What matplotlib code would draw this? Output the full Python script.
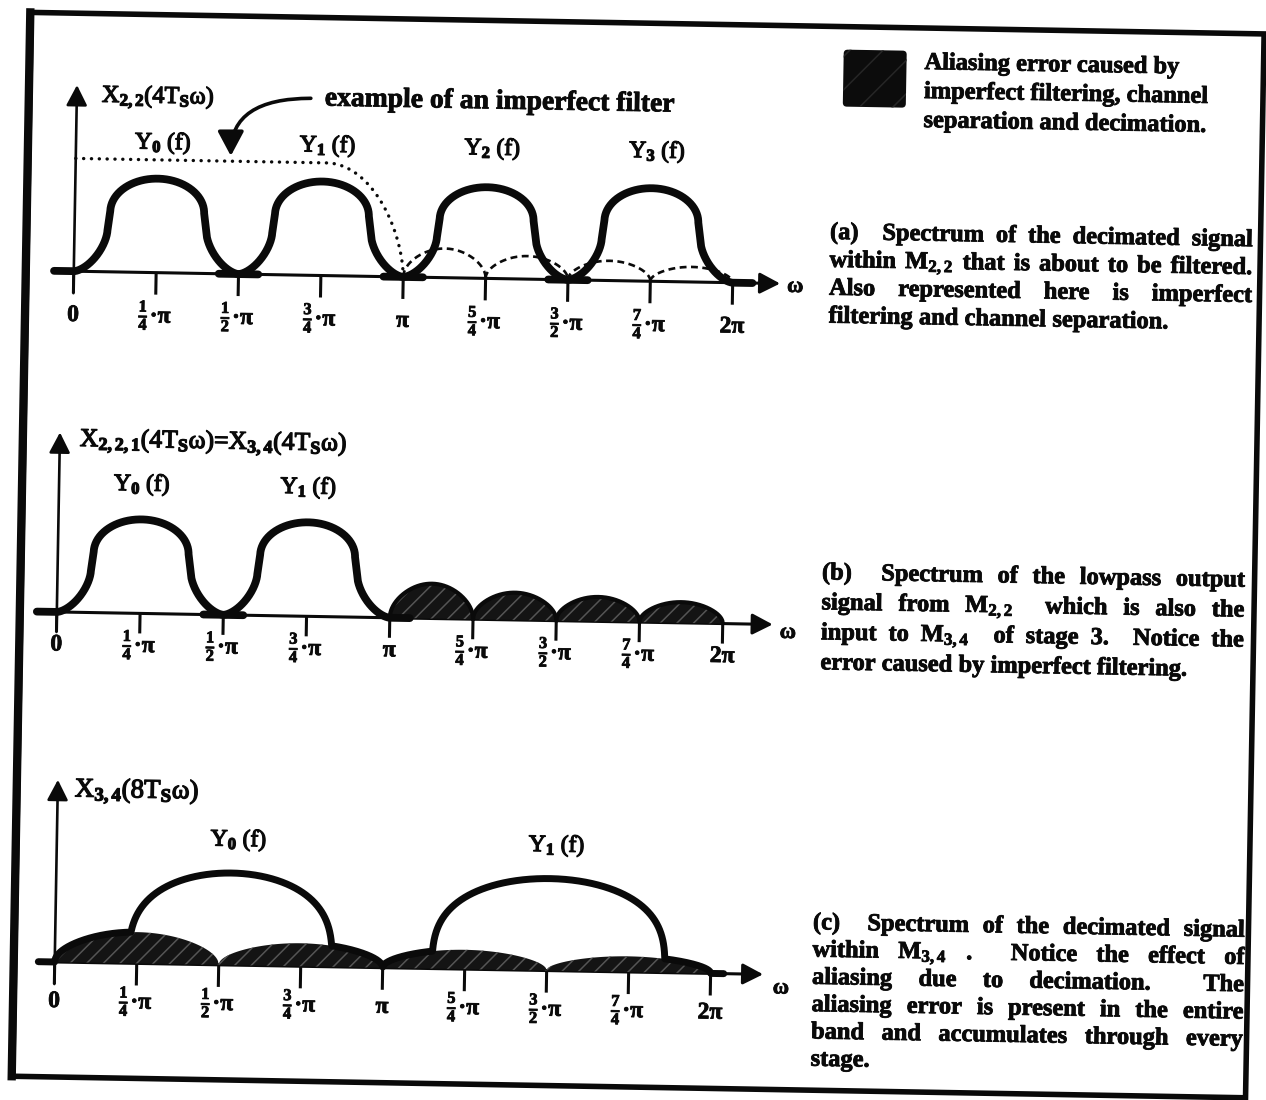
import numpy as np
import matplotlib
matplotlib.use("Agg")
import matplotlib.pyplot as plt
import matplotlib.patheffects as pe
from matplotlib.patches import Rectangle, FancyBboxPatch
from matplotlib.transforms import Affine2D

plt.rcParams.update({
    "font.family": ["Liberation Serif", "DejaVu Serif"],
    "mathtext.fontset": "custom",
    "mathtext.rm": "Liberation Serif:bold",
    "mathtext.it": "Liberation Serif:italic:bold",
    "mathtext.bf": "Liberation Serif:bold",
    "hatch.linewidth": 1.1,
})

# ---------------------------------------------------------------- data
TICK_POS = [0.0, 0.25, 0.5, 0.75, 1.0, 1.25, 1.5, 1.75, 2.0]          # multiples of pi
TICK_TEXT = ["0", r"$\frac{1}{4}$·π", r"$\frac{1}{2}$·π", r"$\frac{3}{4}$·π", "π",
             r"$\frac{5}{4}$·π", r"$\frac{3}{2}$·π", r"$\frac{7}{4}$·π", "2π"]

# (a) decimated spectrum inside M2,2 and an imperfect lowpass filter
A_BAND_NAMES = [r"Y$_0$ (f)", r"Y$_1$ (f)", r"Y$_2$ (f)", r"Y$_3$ (f)"]
A_BAND_CENTERS = [0.25, 0.75, 1.25, 1.75]
A_BAND_PEAKS = [1.0, 1.0, 0.97, 0.99]
A_FILTER_GAIN = 1.2
A_FILTER_ROLLOFF = [0.76, 1.0]
A_SIDELOBE_EDGES = [1.0, 1.25, 1.5, 1.75, 2.0]
A_SIDELOBE_PEAKS = [0.31, 0.245, 0.21, 0.16]

# (b) lowpass output of M2,2 = input of M3,4
B_BAND_NAMES = [r"Y$_0$ (f)", r"Y$_1$ (f)"]
B_BAND_CENTERS = [0.25, 0.75]
B_BAND_PEAKS = [1.0, 1.0]
B_ALIAS_EDGES = [1.0, 1.25, 1.5, 1.75, 2.0]
B_ALIAS_PEAKS = [0.37, 0.29, 0.26, 0.22]

# (c) decimated signal inside M3,4
C_BAND_NAMES = [r"Y$_0$ (f)", r"Y$_1$ (f)"]
C_BAND_CENTERS = [0.535, 1.505]
C_BAND_HALFWIDTHS = [0.31, 0.355]
C_BAND_PEAKS = [1.0, 1.0]
C_ALIAS_EDGES = [0.0, 0.5, 1.0, 1.5, 2.0]
C_ALIAS_PEAKS = [0.34, 0.25, 0.21, 0.17]

AXIS_LABELS = [r"X$_{2,2}$(4T$_{\mathrm{S}}$ω)",
               r"X$_{2,2,1}$(4T$_{\mathrm{S}}$ω)=X$_{3,4}$(4T$_{\mathrm{S}}$ω)",
               r"X$_{3,4}$(8T$_{\mathrm{S}}$ω)"]

LEGEND_TEXT = ["Aliasing error caused by",
               "imperfect filtering, channel",
               "separation and decimation."]
FILTER_NOTE = "example of an imperfect filter"
CAPTION_A = ["(a)  Spectrum of the decimated signal",
             "within M$_{2,2}$ that is about to be filtered.",
             "Also represented here is imperfect",
             "filtering and channel separation."]
CAPTION_B = ["(b)  Spectrum of the lowpass output",
             "signal from M$_{2,2}$  which is also the",
             "input to M$_{3,4}$  of stage 3.  Notice the",
             "error caused by imperfect filtering."]
CAPTION_C = ["(c)  Spectrum of the decimated signal",
             "within M$_{3,4}$ .  Notice the effect of",
             "aliasing due to decimation.  The",
             "aliasing error is present in the entire",
             "band and accumulates through every",
             "stage."]

# ---------------------------------------------------------------- layout
W, H = 1266, 1100
TILT = 1.0
fig = plt.figure(figsize=(W / 100, H / 100), dpi=100)
fig.patch.set_facecolor("white")
ROT = Affine2D().rotate_deg_around(W / 2, H / 2, -TILT)
renderer = fig.canvas.get_renderer()

page = fig.add_axes([0, 0, 1, 1])
page.set_xlim(0, W)
page.set_ylim(H, 0)
page.set_axis_off()
TP = page.transData + ROT

PANEL_A = dict(x0=69, y0=281, kx=329.5, ky=94, ytop=1.98, xstart=-0.064, xtip=2.144,
               tick=0.234, base=-0.53, omega=(2.19, -0.034), ylab=(0.076, 1.86),
               ylab_w=113, name_y=1.38)
PANEL_B = dict(x0=58, y0=622, kx=333, ky=94, ytop=1.91, xstart=-0.04, xtip=2.15,
               tick=0.213, base=-0.41, omega=(2.196, -0.088), ylab=(0.06, 1.83),
               ylab_w=268, name_y=1.37)
PANEL_C = dict(x0=62, y0=972, kx=328, ky=92, ytop=1.98, xstart=-0.046, xtip=2.16,
               tick=0.24, base=-0.49, omega=(2.215, -0.15), ylab=(0.052, 1.87),
               ylab_w=125, name_y=1.36)

INK = "#0a0a0a"
SHADE_FACE = "#141414"
SHADE_HATCH = "#555555"
heavy = [pe.withStroke(linewidth=0.9, foreground=INK)]
print_ink = [pe.withStroke(linewidth=0.6, foreground=INK)]

# band outline: elliptical cap, steep flanks, flared foot (u = offset / half band)
SIDE_TOP, SIDE_LOW, CAP_START, FOOT_TOP, FOOT_EXP = 0.57, 0.60, 0.64, 0.44, 1.6


def band_outline(c, h, half=0.25, tail=0.06):
    th = np.linspace(0, np.pi / 2, 80)
    s = np.sin(th)
    foot_u = -1 + (1 - SIDE_LOW) * s
    foot_f = FOOT_TOP * (1 - (1 - s ** FOOT_EXP) ** (1 / FOOT_EXP))
    ph = np.linspace(np.pi, 0, 160)
    cap_u = SIDE_TOP * np.cos(ph)
    cap_f = CAP_START + (1 - CAP_START) * np.sin(ph)
    u = np.concatenate([[-1 - tail / half], foot_u, cap_u, -foot_u[::-1], [1 + tail / half]])
    f = np.concatenate([[0.0], foot_f, cap_f, foot_f[::-1], [0.0]])
    return c + half * u, h * f


def dome(t):
    return np.sqrt(np.clip(np.sin(np.pi * np.clip(t, 0, 1)), 0, None))


def plateau(u, q=0.33):
    return np.clip(1.0 - u ** 2, 0, None) ** q


def panel_axes(P):
    ax = fig.add_axes([0, 0, 1, 1])
    ax.set_xlim(-P["x0"] / P["kx"], (W - P["x0"]) / P["kx"])
    ax.set_ylim((P["y0"] - H) / P["ky"], P["y0"] / P["ky"])
    ax.set_autoscale_on(False)
    ax.set_axis_off()
    return ax, ax.transData + ROT


def rtext(ax, x, y, s, tr, **kw):
    kw.setdefault("rotation", -TILT)
    kw.setdefault("rotation_mode", "anchor")
    return ax.text(x, y, s, transform=tr, color=INK, clip_on=False, **kw)


def text_width(s, size, weight="bold"):
    t = fig.text(0, 0, s, fontsize=size, fontweight=weight)
    w = t.get_window_extent(renderer).width
    t.remove()
    return w


def draw_axes(ax, tr, P, ylabel):
    arrow = dict(arrowstyle="-|>,head_length=0.62,head_width=0.32", lw=2.2, color=INK,
                 shrinkA=0, shrinkB=0, mutation_scale=20)
    ax.annotate("", xy=(P["xtip"], 0), xytext=(P["xstart"], 0),
                xycoords=tr, textcoords=tr, arrowprops=arrow, zorder=2)
    ax.annotate("", xy=(0, P["ytop"]), xytext=(0, -P["tick"]),
                xycoords=tr, textcoords=tr, arrowprops=dict(arrow, lw=1.9), zorder=2)
    for pos, lab in zip(TICK_POS, TICK_TEXT):
        ax.plot([pos, pos], [0, -P["tick"]], transform=tr, color=INK, lw=2.2,
                solid_capstyle="butt", zorder=2)
        rtext(ax, pos, P["base"], lab, tr, fontsize=17, fontweight="bold",
              ha="center", va="baseline", path_effects=print_ink)
    rtext(ax, P["omega"][0], P["omega"][1], "ω", tr, fontsize=16, fontweight="bold",
          ha="center", va="center", path_effects=print_ink)
    size = 17 * P["ylab_w"] / text_width(ylabel, 17, "normal")
    rtext(ax, P["ylab"][0], P["ylab"][1], ylabel, tr, fontsize=size, ha="left",
          va="center", path_effects=heavy)


def band_names(ax, tr, P, centers, names, dx=0.015):
    for c, n in zip(centers, names):
        rtext(ax, c + dx, P["name_y"], n, tr, fontsize=17, ha="center", va="center",
              path_effects=heavy)


def draw_bands(ax, tr, centers, peaks):
    for c, h in zip(centers, peaks):
        x, y = band_outline(c, h)
        ax.plot(x, y, transform=tr, color=INK, lw=5.6, solid_capstyle="round",
                solid_joinstyle="round", zorder=4)


def alias_profile(x, edges, peaks):
    y = np.zeros_like(x)
    for a, b, h in zip(edges[:-1], edges[1:], peaks):
        inside = (x >= a) & (x <= b)
        y[inside] = h * dome((x[inside] - a) / (b - a))
    return y


def shade_alias(ax, tr, edges, peaks, lw):
    for a, b, h in zip(edges[:-1], edges[1:], peaks):
        x = np.linspace(a, b, 200)
        y = h * dome((x - a) / (b - a))
        ax.fill_between(x, 0, y, transform=tr, facecolor=SHADE_FACE, edgecolor=SHADE_HATCH,
                        hatch="//", linewidth=0, zorder=3)
        if lw:
            ax.plot(x, y, transform=tr, color=INK, lw=lw, solid_capstyle="round", zorder=3.5)


# ---------------------------------------------------------------- (a)
axA, trA = panel_axes(PANEL_A)
draw_axes(axA, trA, PANEL_A, AXIS_LABELS[0])
xf = np.linspace(0, A_FILTER_ROLLOFF[1], 500)
tf = np.clip((xf - A_FILTER_ROLLOFF[0]) / (A_FILTER_ROLLOFF[1] - A_FILTER_ROLLOFF[0]), 0, 1)
axA.plot(xf, A_FILTER_GAIN * (1 - tf ** 2) ** 0.6, transform=trA, color=INK, lw=2.4,
         ls=(0, (0.05, 2.3)), dash_capstyle="round", zorder=3)
for a, b, h in zip(A_SIDELOBE_EDGES[:-1], A_SIDELOBE_EDGES[1:], A_SIDELOBE_PEAKS):
    xs = np.linspace(a, b, 200)
    axA.plot(xs, h * dome((xs - a) / (b - a)), transform=trA, color=INK, lw=1.9,
             ls=(0, (2.6, 1.7)), zorder=3)
draw_bands(axA, trA, A_BAND_CENTERS, A_BAND_PEAKS)
band_names(axA, trA, PANEL_A, A_BAND_CENTERS, A_BAND_NAMES)

# ---------------------------------------------------------------- (b)
axB, trB = panel_axes(PANEL_B)
draw_axes(axB, trB, PANEL_B, AXIS_LABELS[1])
shade_alias(axB, trB, B_ALIAS_EDGES, B_ALIAS_PEAKS, lw=3.0)
draw_bands(axB, trB, B_BAND_CENTERS, B_BAND_PEAKS)
band_names(axB, trB, PANEL_B, B_BAND_CENTERS, B_BAND_NAMES, dx=0.0)

# ---------------------------------------------------------------- (c)
axC, trC = panel_axes(PANEL_C)
draw_axes(axC, trC, PANEL_C, AXIS_LABELS[2])
shade_alias(axC, trC, C_ALIAS_EDGES, C_ALIAS_PEAKS, lw=0)
xc = np.linspace(-0.05, 2.04, 3000)
outline = alias_profile(xc, C_ALIAS_EDGES, C_ALIAS_PEAKS)
for c, w, h in zip(C_BAND_CENTERS, C_BAND_HALFWIDTHS, C_BAND_PEAKS):
    outline = np.maximum(outline, h * plateau((xc - c) / w))
axC.plot(xc, outline, transform=trC, color=INK, lw=5.0, solid_capstyle="round",
         solid_joinstyle="round", zorder=4)
band_names(axC, trC, PANEL_C, C_BAND_CENTERS, C_BAND_NAMES, dx=0.02)


# ---------------------------------------------------------------- text blocks
def caption(lines, left, baseline, pitch, width, size):
    space = text_width("a a", size) - text_width("aa", size)
    for i, line in enumerate(lines):
        words = line.split(" ")
        widths = [text_width(w, size) if w else 0.0 for w in words]
        last = i == len(lines) - 1
        gap = space if (last or len(words) < 2) else (width - sum(widths)) / (len(words) - 1)
        x = left
        y = baseline + i * pitch
        for w, wd in zip(words, widths):
            if w:
                rtext(page, x, y, w, TP, fontsize=size, fontweight="bold",
                      ha="left", va="baseline", path_effects=print_ink)
            x += wd + gap


CAP_SIZE = 17.6 * 366 / text_width(CAPTION_B[-1], 17.6)
caption(CAPTION_A, 824.5, 235.5, 27.9, 423, CAP_SIZE)
caption(CAPTION_B, 822.4, 576.0, 30.0, 423, CAP_SIZE)
caption(CAPTION_C, 819.5, 926.0, 27.3, 432, CAP_SIZE)

for i, line in enumerate(LEGEND_TEXT):
    rtext(page, 916, 64 + 29 * i, line, TP, fontsize=CAP_SIZE, fontweight="bold",
          ha="left", va="baseline", path_effects=print_ink)
page.add_patch(FancyBboxPatch((838, 49), 57, 51, boxstyle="round,pad=3,rounding_size=4",
                              transform=TP, facecolor="#0c0c0c", edgecolor="#262626",
                              hatch="/", linewidth=0, zorder=3))

note_size = 19.5 * 350 / text_width(FILTER_NOTE, 19.5)
rtext(page, 317, 111, FILTER_NOTE, TP, fontsize=note_size, fontweight="bold",
      ha="left", va="baseline", path_effects=print_ink)
page.annotate("", xy=(224, 163), xytext=(303, 104), xycoords=TP, textcoords=TP,
              arrowprops=dict(arrowstyle="-|>,head_length=0.75,head_width=0.4",
                              connectionstyle="angle3,angleA=0,angleB=90",
                              lw=2.6, color=INK, shrinkA=0, shrinkB=0, mutation_scale=20))

# outer frame
page.add_patch(Rectangle((22, 23), 1233, 1064, transform=TP, fill=False,
                         edgecolor=INK, linewidth=4.0, zorder=5))
page.plot([21, 21], [23, 1087], transform=TP, color=INK, lw=6.0, zorder=5)

fig.savefig("out.png", dpi=100, facecolor="white")
